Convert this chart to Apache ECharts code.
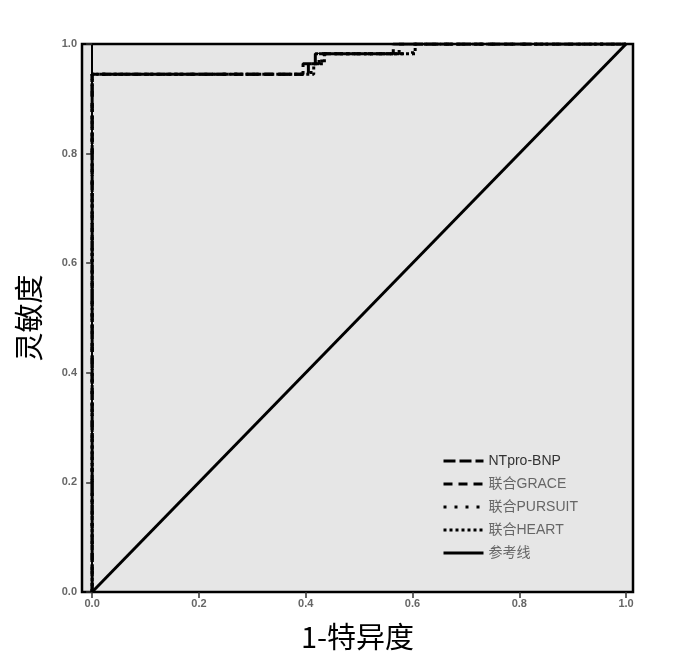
<!DOCTYPE html>
<html lang="zh">
<head>
    <meta charset="UTF-8" />
    <title>ROC曲线</title>
    <script src="https://cdn.jsdelivr.net/npm/echarts@6/dist/echarts.min.js"></script>
    <style>
        body { margin: 0; background: #fff; }
        #main { width: 700px; height: 672px; }
    </style>
</head>
<body>
    <div id="main"></div>
    <script>
        // 1-特异度 / 灵敏度 step points for each curve
        const bnpX = [0, 0, 0.395, 0.395, 0.418, 0.418, 0.564, 0.564, 1];
        const bnpY = [0, 0.945, 0.945, 0.964, 0.964, 0.982, 0.982, 1, 1];
        const graceX = [0, 0, 0.405, 0.405, 0.425, 0.425, 0.575, 0.575, 1];
        const graceY = [0, 0.945, 0.945, 0.964, 0.964, 0.982, 0.982, 1, 1];
        const pursuitX = [0, 0, 0.41, 0.41, 0.43, 0.43, 0.6, 0.6, 1];
        const pursuitY = [0, 0.945, 0.945, 0.964, 0.964, 0.982, 0.982, 1, 1];
        const heartX = [0, 0, 0.415, 0.415, 0.435, 0.435, 0.605, 0.605, 1];
        const heartY = [0, 0.945, 0.945, 0.964, 0.964, 0.982, 0.982, 1, 1];
        const refX = [0, 1];
        const refY = [0, 1];

        const tickValues = [0, 0.2, 0.4, 0.6, 0.8, 1];
        const names = ['NTpro-BNP', '联合GRACE', '联合PURSUIT', '联合HEART', '参考线'];

        function pairs(xs, ys) {
            return xs.map((x, i) => [x, ys[i]]);
        }

        var myChart = echarts.init(document.getElementById('main'));

        function curve(name, xs, ys, type, width) {
            return {
                name: name,
                type: 'line',
                data: pairs(xs, ys),
                symbol: 'none',
                silent: true,
                animation: false,
                lineStyle: { color: '#000', width: width, type: type, cap: 'butt' },
                itemStyle: { color: '#000' }
            };
        }

        var option = {
            backgroundColor: '#fff',
            animation: false,
            grid: {
                left: 82,
                right: 67,
                top: 44,
                bottom: 80,
                outerBoundsMode: 'none',
                show: true,
                backgroundColor: '#e6e6e6',
                borderColor: '#000',
                borderWidth: 2.5
            },
            xAxis: {
                type: 'value',
                min: -0.019,
                max: 1.013,
                name: '1-特异度',
                nameLocation: 'middle',
                nameGap: 30,
                nameTextStyle: { fontSize: 29, color: '#000', fontFamily: 'Noto Sans CJK SC' },
                axisLine: { show: true, lineStyle: { color: '#000', width: 2 } },
                splitLine: { show: false },
                axisTick: {
                    show: true, length: 6, customValues: tickValues,
                    lineStyle: { color: '#333', width: 1.5 }
                },
                axisLabel: {
                    customValues: tickValues,
                    margin: 6,
                    fontSize: 11,
                    fontWeight: 'bold',
                    color: '#666',
                    fontFamily: 'Arial, Liberation Sans',
                    formatter: v => v.toFixed(1)
                }
            },
            yAxis: {
                type: 'value',
                min: 0,
                max: 1,
                interval: 0.2,
                name: '灵敏度',
                nameLocation: 'middle',
                nameRotate: 90,
                nameGap: 39,
                nameTextStyle: { fontSize: 29, color: '#000', fontFamily: 'Noto Sans CJK SC' },
                axisLine: { show: true, lineStyle: { color: '#000', width: 2 } },
                splitLine: { show: false },
                axisTick: { show: true, length: 6, lineStyle: { color: '#333', width: 1.5 } },
                axisLabel: {
                    margin: 5,
                    fontSize: 11,
                    fontWeight: 'bold',
                    color: '#666',
                    fontFamily: 'Arial, Liberation Sans',
                    formatter: v => v.toFixed(1)
                }
            },
            legend: {
                orient: 'vertical',
                left: 437,
                top: 449,
                itemWidth: 40,
                itemHeight: 12,
                itemGap: 9,
                itemStyle: { opacity: 0 },
                lineStyle: { width: 3 },
                textStyle: { fontSize: 14, color: '#666', fontFamily: 'Arial, Noto Sans CJK SC' },
                data: [
                    { name: names[0], textStyle: { color: '#333' } },
                    names[1], names[2], names[3], names[4]
                ]
            },
            series: [
                curve(names[0], bnpX, bnpY, [12, 4], 3),
                curve(names[1], graceX, graceY, [9, 6], 3),
                curve(names[2], pursuitX, pursuitY, [3, 8], 3),
                curve(names[3], heartX, heartY, [3, 3], 3),
                curve(names[4], refX, refY, 'solid', 3)
            ]
        };

        myChart.setOption(option);
    </script>
</body>
</html>
